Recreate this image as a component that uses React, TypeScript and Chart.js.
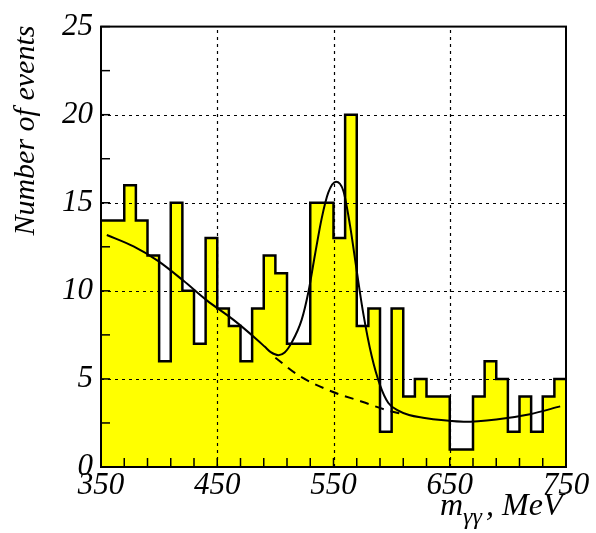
import React, { useEffect, useRef } from "react";
import { Chart, registerables } from "chart.js";
Chart.register(...registerables);

// Histogram: bin lower edges (MeV) and event counts per 10 MeV bin
const binStarts = [
  350, 360, 370, 380, 390, 400, 410, 420, 430, 440,
  450, 460, 470, 480, 490, 500, 510, 520, 530, 540,
  550, 560, 570, 580, 590, 600, 610, 620, 630, 640,
  650, 660, 670, 680, 690, 700, 710, 720, 730, 740,
];
const binEnd = 750;
const counts = [
  14, 14, 16, 14, 12, 6, 15, 10, 7, 13,
  9, 8, 6, 9, 12, 11, 7, 7, 15, 15,
  13, 20, 8, 9, 2, 9, 4, 5, 4, 4,
  1, 1, 4, 6, 5, 2, 4, 2, 4, 5,
];

// Fit curve (signal + background), solid
const fitX = [
  355, 378, 399, 421, 441, 464, 484, 491, 496, 502.5, 508, 514, 522.6, 528.4,
  534.1, 539.8, 545.5, 552.2, 558.5, 564.2, 570, 575.6, 582.8, 590, 597.2,
  605.8, 615, 627, 645, 662, 690, 719, 745,
];
const fitY = [
  13.17, 12.52, 11.7, 10.57, 9.46, 8.35, 7.24, 6.82, 6.52, 6.35, 6.5, 7.06, 8.35, 9.93,
  12.06, 14.1, 15.57, 16.19, 15.67, 13.72, 11.13, 8.72, 6.31, 4.65, 3.63,
  3.2, 2.95, 2.8, 2.65, 2.57, 2.7, 3.0, 3.44,
];

// Background-only continuation, dashed
const bgX = [500, 520, 548, 574, 597, 607];
const bgY = [6.2, 5.2, 4.3, 3.72, 3.2, 3.05];

const xTickValues = [350, 450, 550, 650, 750];
const yTickValues = [0, 5, 10, 15, 20, 25];

const SERIF = "'Liberation Serif', 'Times New Roman', serif";

const framePlugin = {
  id: "rootFrame",
  afterDatasetsDraw(chart: any) {
    const { ctx, chartArea, scales } = chart;
    const xs = scales.x;
    const ys = scales.y;
    const { left, right, top, bottom } = chartArea;
    ctx.save();
    // dotted grid
    ctx.strokeStyle = "#000";
    ctx.lineWidth = 1.2;
    ctx.setLineDash([3, 4]);
    for (const v of xTickValues) {
      const px = Math.round(xs.getPixelForValue(v)) + 0.5;
      if (px <= left + 2 || px >= right - 2) continue;
      ctx.beginPath();
      ctx.moveTo(px, bottom);
      ctx.lineTo(px, top);
      ctx.stroke();
    }
    for (const v of yTickValues) {
      const py = Math.round(ys.getPixelForValue(v)) + 0.5;
      if (py <= top + 2 || py >= bottom - 2) continue;
      ctx.beginPath();
      ctx.moveTo(left, py);
      ctx.lineTo(right, py);
      ctx.stroke();
    }
    ctx.setLineDash([]);
    // tick marks (inside)
    ctx.lineWidth = 1.5;
    const tl = 9;
    for (let v = xs.min; v <= xs.max + 1e-6; v += 20) {
      const px = xs.getPixelForValue(v);
      ctx.beginPath();
      ctx.moveTo(px, bottom);
      ctx.lineTo(px, bottom - tl);
      ctx.stroke();
    }
    for (let v = ys.min; v <= ys.max + 1e-6; v += 2.5) {
      const py = ys.getPixelForValue(v);
      ctx.beginPath();
      ctx.moveTo(left, py);
      ctx.lineTo(left + tl, py);
      ctx.stroke();
    }
    // frame
    ctx.lineWidth = 2;
    ctx.strokeRect(left, top, right - left, bottom - top);
    ctx.restore();
  },
  afterDraw(chart: any) {
    const { ctx, chartArea } = chart;
    ctx.save();
    ctx.fillStyle = "#000";
    // Y title
    ctx.font = `italic 30px ${SERIF}`;
    ctx.translate(34, chartArea.top - 1);
    ctx.rotate(-Math.PI / 2);
    ctx.textAlign = "right";
    ctx.textBaseline = "alphabetic";
    ctx.fillText("Number of events", 0, 0);
    ctx.restore();

    // X title: m_γγ, MeV
    ctx.save();
    ctx.fillStyle = "#000";
    ctx.textBaseline = "alphabetic";
    ctx.textAlign = "left";
    const big = `italic 32px ${SERIF}`;
    const small = `italic 24px ${SERIF}`;
    const base = 515;
    let x = 440;
    ctx.font = big;
    ctx.fillText("m", x, base);
    x += ctx.measureText("m").width;
    ctx.font = small;
    ctx.fillText("γγ", x, base + 9);
    x += ctx.measureText("γγ").width + 4;
    ctx.font = big;
    ctx.fillText(", MeV", x, base);
    ctx.restore();
  },
};

export default function App() {
  const ref = useRef<HTMLCanvasElement | null>(null);
  useEffect(() => {
    if (!ref.current) return;
    const histPts = binStarts.map((b, i) => ({ x: b, y: counts[i] }));
    histPts.push({ x: binEnd, y: counts[counts.length - 1] });
    const fitPts = fitX.map((x, i) => ({ x, y: fitY[i] }));
    const bgPts = bgX.map((x, i) => ({ x, y: bgY[i] }));
    const tickFont = { family: SERIF, style: "italic" as const, size: 31 };
    const chart = new Chart(ref.current, {
      type: "line",
      data: {
        datasets: [
          {
            label: "data",
            data: histPts,
            stepped: true,
            borderColor: "#000",
            borderWidth: 2.5,
            backgroundColor: "#ffff00",
            fill: "origin",
            pointRadius: 0,
            order: 3,
          },
          {
            label: "background",
            data: bgPts,
            borderColor: "#000",
            borderWidth: 2,
            borderDash: [9, 7],
            fill: false,
            pointRadius: 0,
            cubicInterpolationMode: "monotone",
            order: 2,
          },
          {
            label: "fit",
            data: fitPts,
            borderColor: "#000",
            borderWidth: 2,
            fill: false,
            pointRadius: 0,
            cubicInterpolationMode: "monotone",
            order: 1,
          },
        ],
      },
      options: {
        animation: false,
        responsive: false,
        layout: { padding: { left: 0, right: 30, top: 17, bottom: 0 } },
        plugins: {
          legend: { display: false },
          tooltip: { enabled: false },
          title: { display: false },
        },
        scales: {
          x: {
            type: "linear",
            min: 350,
            max: 750,
            grid: { display: false, drawTicks: false },
            border: { display: false },
            afterBuildTicks: (s: any) => {
              s.ticks = xTickValues.map((v) => ({ value: v }));
            },
            afterFit: (s: any) => {
              s.height = 66;
            },
            ticks: {
              color: "#000",
              font: tickFont,
              padding: 0,
              maxRotation: 0,
              autoSkip: false,
            },
          },
          y: {
            type: "linear",
            min: 0,
            max: 25,
            grid: { display: false, drawTicks: false },
            border: { display: false },
            afterBuildTicks: (s: any) => {
              s.ticks = yTickValues.map((v) => ({ value: v }));
            },
            afterFit: (s: any) => {
              s.width = 101;
            },
            ticks: {
              color: "#000",
              font: tickFont,
              padding: 8,
              autoSkip: false,
            },
          },
        },
      },
      plugins: [framePlugin],
    });
    return () => chart.destroy();
  }, []);
  return (
    <div style={{ position: "fixed", left: 0, top: 0, width: 596, height: 533, background: "#fff" }}>
      <canvas ref={ref} width={596} height={533} style={{ display: "block" }} />
    </div>
  );
}
